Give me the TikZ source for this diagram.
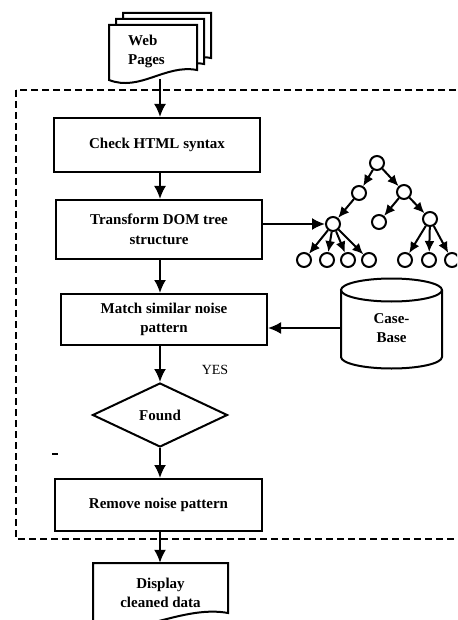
\documentclass[tikz,border=0pt]{standalone}
\usepackage{fontspec}
\setmainfont{Liberation Serif}
\usetikzlibrary{arrows.meta,shapes.geometric}

\begin{document}
\begin{tikzpicture}[x=1pt,y=-1pt,
  every node/.style={font=\fontsize{15}{19.5}\selectfont\bfseries, inner sep=0pt},
  box/.style={draw, line width=2pt, rectangle, align=center},
  arr/.style={line width=2pt, -{Latex[length=13pt,width=12pt]}},
  tarr/.style={line width=2pt, -{Latex[length=11pt,width=10pt]}},
  tn/.style={draw, circle, line width=2pt, minimum size=14pt},
  sheet/.style={draw, line width=2pt, fill=white},
]
\useasboundingbox (0,0) rectangle (457,620);
\clip (0,0) rectangle (457,620);

% process boundary (dashed frame)
\draw[line width=2pt, dash pattern=on 7pt off 4pt] (16,90) rectangle (480,539);

% stacked "Web Pages" document symbol
\foreach \d in {2,1,0} {
  \begin{scope}[shift={(7*\d,-6*\d)}]
    \draw[sheet] (109,80) -- (109,25) -- (197,25) -- (197,70)
      .. controls (165,64) and (140,92) .. (109,80) -- cycle;
  \end{scope}
}
\node[align=left] (web) at (146.5,51.5) {Web\\Pages};
\coordinate (webout) at (160,79);
\coordinate (trunk) at (160,0);

% main process steps
\node[box, minimum width=206pt, minimum height=54pt] (check) at (157,145) {Check HTML syntax};
\node[box, minimum width=206pt, minimum height=59pt] (dom) at (159,229.5) {Transform DOM tree\\structure};
\node[box, minimum width=206pt, minimum height=51pt] (match) at (164,319.5) {Match similar noise\\pattern};
\node[draw, diamond, line width=2pt, minimum width=135pt, minimum height=64pt, aspect=2.1] (found) at (160,415) {Found};
\node[font=\fontsize{14}{17}\selectfont] (yes) at (215,370) {YES};
\node[box, minimum width=207pt, minimum height=52pt] (remove) at (158.5,505) {Remove noise pattern};

% output document
\draw[sheet] (93,635) -- (93,563) -- (228,563) -- (228,613)
  .. controls (190,606) and (150,628) .. (93,635);
\node[align=center, minimum width=135pt, minimum height=60pt] (disp) at (160.5,593) {Display\\cleaned data};

% case base (cylinder)
\draw[line width=2pt, fill=white] (341,290) -- (341,357)
  arc[start angle=180, end angle=0, x radius=50.5, y radius=11.5] -- (442,290);
\draw[line width=2pt] (391.5,290) ellipse[x radius=50.5, y radius=11.5];
\node[align=center, minimum width=101pt, minimum height=60pt] (cb) at (391.5,328) {Case-\\Base};

% DOM tree
\node[tn] (r0) at (377,163) {};
\node[tn] (a)  at (359,193) {};
\node[tn] (b)  at (404,192) {};
\node[tn] (aa) at (333,224) {};
\node[tn] (ba) at (379,222) {};
\node[tn] (bb) at (430,219) {};
\node[tn] (c1) at (304,260) {};
\node[tn] (c2) at (327,260) {};
\node[tn] (c3) at (348,260) {};
\node[tn] (c4) at (369,260) {};
\node[tn] (d1) at (405,260) {};
\node[tn] (d2) at (429,260) {};
\node[tn] (d3) at (452,260) {};
\foreach \p/\c in {r0/a, r0/b, a/aa, b/ba, b/bb, aa/c1, aa/c2, aa/c3, aa/c4, bb/d1, bb/d2, bb/d3}
  \draw[tarr] (\p) -- (\c);

% flow connectors
\draw[arr] (webout) -- (webout |- check.north);
\draw[arr] (check.south -| trunk) -- (dom.north -| trunk);
\draw[arr] (dom.south -| trunk) -- (match.north -| trunk);
\draw[arr] (match.south -| trunk) -- (found.north);
\draw[arr] (found.south) -- (remove.north -| found.south);
\draw[arr] (remove.south -| trunk) -- (disp.north -| trunk);
\draw[arr] (dom.east |- aa) -- (aa.west);
\draw[arr] (cb.west) -- (cb.west -| match.east);

% small stray mark left of the decision
\draw[line width=1.5pt] (52,454) -- (58,454);
\end{tikzpicture}
\end{document}
